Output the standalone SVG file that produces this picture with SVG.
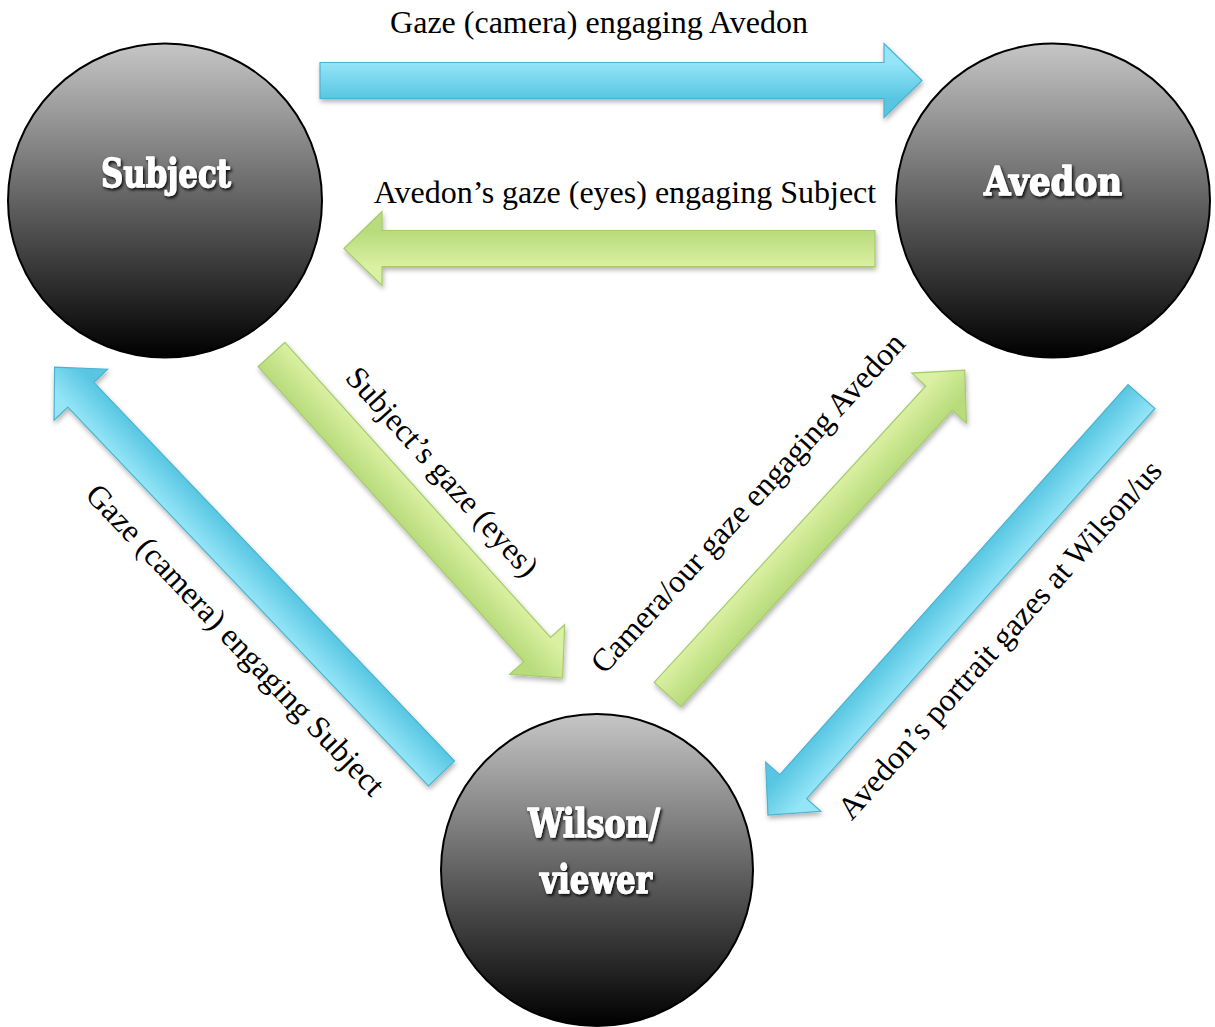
<svg xmlns="http://www.w3.org/2000/svg" width="1215" height="1027" viewBox="0 0 1215 1027">
  <defs>
    <linearGradient id="ballGrad" x1="0" y1="0" x2="0" y2="1">
      <stop offset="0" stop-color="#c6c6c6"/>
      <stop offset="0.5" stop-color="#626262"/>
      <stop offset="1" stop-color="#000000"/>
    </linearGradient>
    <linearGradient id="blueGrad" gradientUnits="userSpaceOnUse" x1="0" y1="-18" x2="0" y2="18">
      <stop offset="0" stop-color="#95e5f7"/>
      <stop offset="1" stop-color="#58c6e2"/>
    </linearGradient>
    <linearGradient id="greenGrad" gradientUnits="userSpaceOnUse" x1="0" y1="-18" x2="0" y2="18">
      <stop offset="0" stop-color="#daf0a2"/>
      <stop offset="1" stop-color="#b8db7b"/>
    </linearGradient>
    <filter id="arrowShadow" x="-10%" y="-10%" width="120%" height="120%">
      <feDropShadow dx="1" dy="3" stdDeviation="2.5" flood-color="#000" flood-opacity="0.3"/>
    </filter>
    <filter id="textShadow" x="-10%" y="-20%" width="120%" height="140%">
      <feDropShadow dx="1.5" dy="2" stdDeviation="1.8" flood-color="#000" flood-opacity="0.9"/>
    </filter>
  </defs>
  <style>
    .ball { fill: url(#ballGrad); stroke: #000; stroke-width: 2; }
    .nodeText { font-family: "DejaVu Serif", "Liberation Serif", serif; font-weight: bold; font-size: 40px; fill: #fff; stroke: #fff; stroke-width: 1.4; stroke-linejoin: round; text-anchor: middle; filter: url(#textShadow); }
    .blue { fill: url(#blueGrad); stroke: #4ab4d2; stroke-width: 1.2; }
    .green { fill: url(#greenGrad); stroke: #a4cc6c; stroke-width: 1.2; }
    .lbl { font-family: "Liberation Serif", "Times New Roman", serif; font-size: 32px; fill: #000; text-anchor: middle; }
  </style>
  <rect width="1215" height="1027" fill="#fff"/>

  <g id="connectors">
    <g filter="url(#arrowShadow)">
      <path class="blue" transform="translate(320,80.5)" d="M0,-18 H564 V-37 L602,0 L564,37 V18 H0 Z"/>
    </g>
    <g filter="url(#arrowShadow)">
      <path class="green" transform="translate(875,248.5) rotate(180)" d="M0,-18 H493 V-37 L531,0 L493,37 V18 H0 Z"/>
    </g>
    <g filter="url(#arrowShadow)">
      <path class="green" transform="translate(271.5,354.5) rotate(48)" d="M0,-18 H397 V-37 L435,0 L397,37 V18 H0 Z"/>
    </g>
    <g filter="url(#arrowShadow)">
      <path class="blue" transform="translate(441.5,773.5) rotate(-133.6)" d="M0,-18 H523 V-37 L561,0 L523,37 V18 H0 Z"/>
    </g>
    <g filter="url(#arrowShadow)">
      <path class="green" transform="translate(667.5,694.5) rotate(-47.5)" d="M0,-18 H402 V-37 L440,0 L402,37 V18 H0 Z"/>
    </g>
    <g filter="url(#arrowShadow)">
      <path class="blue" transform="translate(1141.5,396.5) rotate(131.75)" d="M0,-18 H523 V-37 L561,0 L523,37 V18 H0 Z"/>
    </g>

    <text class="lbl" x="599" y="33">Gaze (camera) engaging Avedon</text>
    <text class="lbl" x="625" y="203">Avedon’s gaze (eyes) engaging Subject</text>
    <text class="lbl" transform="translate(434.4,478.8) rotate(48)">Subject’s gaze (eyes)</text>
    <text class="lbl" transform="translate(227.6,647) rotate(46.4)">Gaze (camera) engaging Subject</text>
    <text class="lbl" transform="translate(755.5,510) rotate(-47.5)">Camera/our gaze engaging Avedon</text>
    <text class="lbl" transform="translate(1007.6,646.8) rotate(-48.25)">Avedon’s portrait gazes at Wilson/us</text>
  </g>

  <g id="node-subject">
    <circle class="ball" cx="165" cy="200.5" r="157"/>
    <text class="nodeText" x="166" y="187" textLength="130" lengthAdjust="spacingAndGlyphs">Subject</text>
  </g>
  <g id="node-avedon">
    <circle class="ball" cx="1053" cy="200.5" r="157"/>
    <text class="nodeText" x="1053" y="195" textLength="138" lengthAdjust="spacingAndGlyphs">Avedon</text>
  </g>
  <g id="node-wilson">
    <circle class="ball" cx="597" cy="870" r="156"/>
    <text class="nodeText" x="594" y="837" textLength="132" lengthAdjust="spacingAndGlyphs">Wilson/</text>
    <text class="nodeText" x="596" y="893" textLength="112" lengthAdjust="spacingAndGlyphs">viewer</text>
  </g>
</svg>
